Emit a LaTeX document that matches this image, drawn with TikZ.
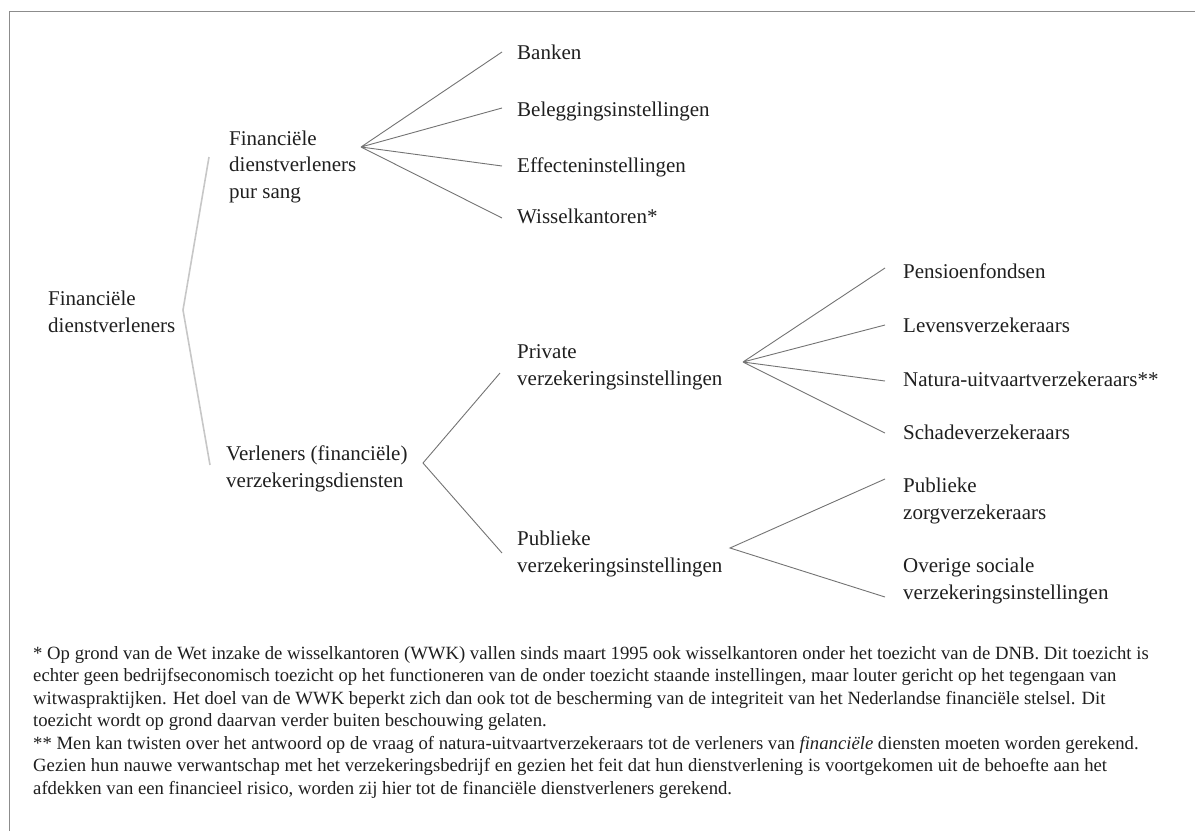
\documentclass[tikz,border=0pt]{standalone}
\usepackage{fontspec}
\setmainfont{Liberation Serif}
\begin{document}
\begin{tikzpicture}[x=1pt,y=-1pt,
  lbl/.style={inner sep=0pt, anchor=base west, align=left, text=black!88, font=\fontsize{21}{26.5}\selectfont},
  note/.style={inner sep=0pt, anchor=base west, align=left, text=black!88, font=\fontsize{18.7}{22.5}\selectfont},
  fan/.style={draw=black!55, line width=0.9pt},
  rootln/.style={draw=black!22, line width=1.6pt},
  frame/.style={draw=black!45, line width=1pt}]
\useasboundingbox (0,0) rectangle (1195,831);
\draw[frame] (1195,11) -- (9,11) -- (9,831);

% labels (anchor = baseline of last line)
\node[lbl] (root) at (48,332) {Financiële\\dienstverleners};
\node[lbl] (pursang) at (229,198) {Financiële\\dienstverleners\\pur sang};
\node[lbl] (verz) at (226,487) {Verleners (financiële)\\verzekeringsdiensten};
\node[lbl] (priv) at (517,385) {Private\\verzekeringsinstellingen};
\node[lbl] (publ) at (517,572) {Publieke\\verzekeringsinstellingen};
\node[lbl] (banken) at (517,59) {Banken};
\node[lbl] (beleg) at (517,116) {Beleggingsinstellingen};
\node[lbl] (effect) at (517,172) {Effecteninstellingen};
\node[lbl] (wissel) at (517,223) {Wisselkantoren*};
\node[lbl] (pensioen) at (903,278) {Pensioenfondsen};
\node[lbl] (levens) at (903,332) {Levensverzekeraars};
\node[lbl] (natura) at (903,386) {Natura-uitvaartverzekeraars**};
\node[lbl] (schade) at (903,439) {Schadeverzekeraars};
\node[lbl] (pubzorg) at (903,519) {Publieke\\zorgverzekeraars};
\node[lbl] (overig) at (903,599) {Overige sociale\\verzekeringsinstellingen};

% connector points
\coordinate (rootV) at (183,310);
\coordinate (rootA) at (209,157);
\coordinate (rootB) at (210,465);
\coordinate (psV) at (361,147);
\coordinate (psA) at (502,52);
\coordinate (psB) at (502,108);
\coordinate (psC) at (502,166);
\coordinate (psD) at (502,218);
\coordinate (vzV) at (423,463);
\coordinate (vzA) at (500,373);
\coordinate (vzB) at (502,553);
\coordinate (prV) at (743,362);
\coordinate (prA) at (885,268);
\coordinate (prB) at (885,325);
\coordinate (prC) at (885,381);
\coordinate (prD) at (885,433);
\coordinate (puV) at (730,548);
\coordinate (puA) at (885,479);
\coordinate (puB) at (885,597);

\draw[rootln] (rootA) -- (rootV) -- (rootB);
\draw[fan] (psV) -- (psA) (psV) -- (psB) (psV) -- (psC) (psV) -- (psD);
\draw[fan] (vzA) -- (vzV) -- (vzB);
\draw[fan] (prV) -- (prA) (prV) -- (prB) (prV) -- (prC) (prV) -- (prD);
\draw[fan] (puA) -- (puV) -- (puB);

% footnotes
\node[note] (note1) at (33,726.5) {* Op grond van de Wet inzake de wisselkantoren (WWK) vallen sinds maart 1995 ook wisselkantoren onder het toezicht van de DNB. Dit toezicht is\\
echter geen bedrijfseconomisch toezicht op het functioneren van de onder toezicht staande instellingen, maar louter gericht op het tegengaan van\\
witwaspraktijken. Het doel van de WWK beperkt zich dan ook tot de bescherming van de integriteit van het Nederlandse financiële stelsel. Dit\\
toezicht wordt op grond daarvan verder buiten beschouwing gelaten.};
\node[note] (note2) at (33,794) {** Men kan twisten over het antwoord op de vraag of natura-uitvaartverzekeraars tot de verleners van \textit{financiële} diensten moeten worden gerekend.\\
Gezien hun nauwe verwantschap met het verzekeringsbedrijf en gezien het feit dat hun dienstverlening is voortgekomen uit de behoefte aan het\\
afdekken van een financieel risico, worden zij hier tot de financiële dienstverleners gerekend.};
\end{tikzpicture}
\end{document}
